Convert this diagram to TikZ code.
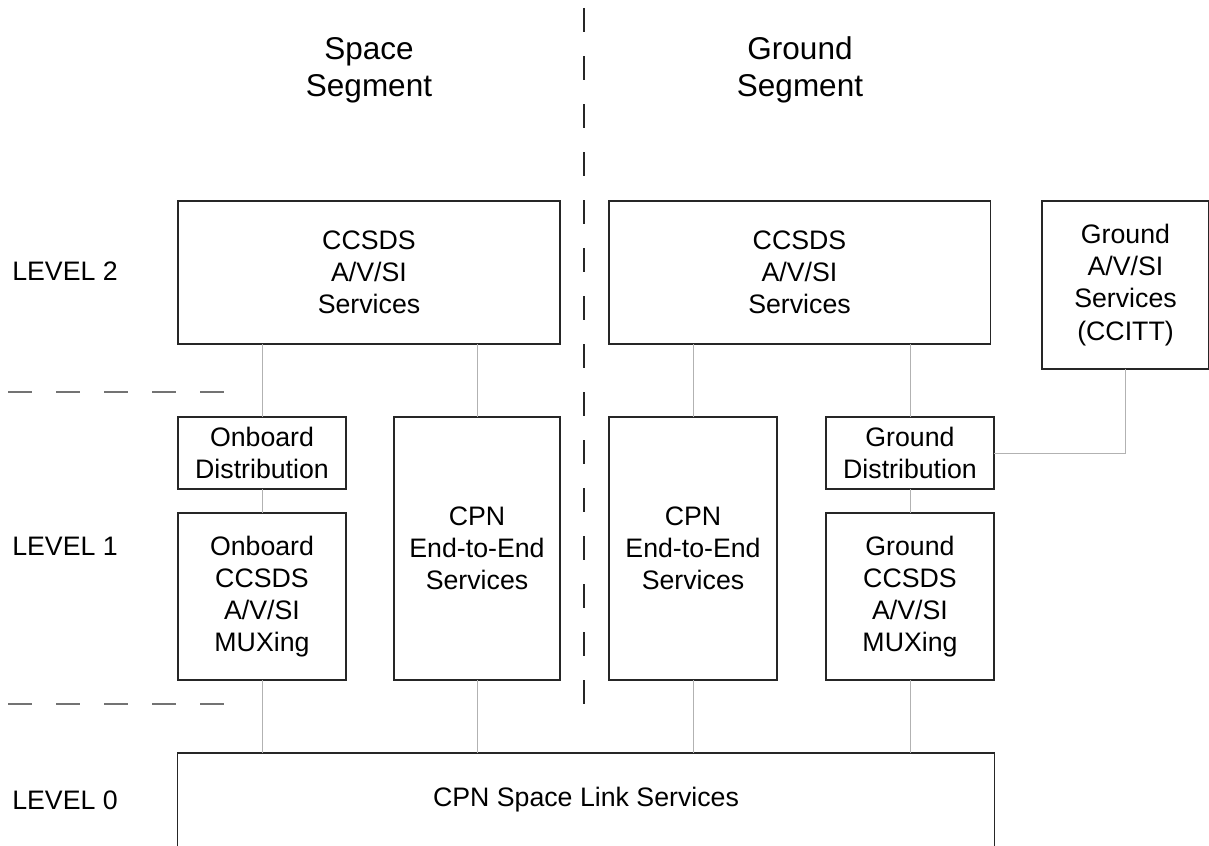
\documentclass[tikz,border=0pt]{standalone}
\usepackage{fontspec}
\setmainfont{Liberation Sans}

\begin{document}
\begin{tikzpicture}[x=0.025cm, y=-0.025cm,
        box/.style={draw=black!85, line width=0.8pt, inner sep=0pt, outer sep=0pt, align=center,
                    font=\fontsize{19pt}{22.8pt}\selectfont},
        conn/.style={draw=black!30, line width=0.5pt},
        level/.style={anchor=west, inner sep=0pt, font=\fontsize{19pt}{22.8pt}\selectfont},
        segment/.style={align=center, font=\fontsize{22.4pt}{26.2pt}\selectfont}]

        \useasboundingbox (0,0) rectangle (1209,846);

        % Segment headings and the divider between them
        \node[segment] (space) at (369,70) {Space\\Segment};
        \node[segment] (ground) at (800,70) {Ground\\Segment};
        \draw[black!85, line width=0.8pt, dash pattern=on 0.6cm off 0.6cm] (584,8) -- (584,704);

        % Levels and the dashed marks between them
        \node[level] (lvl2) at (12,271) {LEVEL 2};
        \node[level] (lvl1) at (12,546) {LEVEL 1};
        \node[level] (lvl0) at (12,800) {LEVEL 0};
        \draw[black!55, line width=1pt, dash pattern=on 0.6cm off 0.6cm] (8,392) -- (224,392);
        \draw[black!55, line width=1pt, dash pattern=on 0.6cm off 0.6cm] (8,704) -- (224,704);

        % Level 2 boxes
        \node[box, minimum width=9.55cm, minimum height=3.575cm] (spcc) at (369,272.5) {CCSDS\\A/V/SI\\Services};
        \node[box, minimum width=9.525cm, minimum height=3.575cm] (grcc) at (799.5,272.5) {CCSDS\\A/V/SI\\Services};
        \node[box, minimum width=4.175cm, minimum height=4.2cm] (ccitt) at (1125.5,285) {Ground\\A/V/SI\\Services\\(CCITT)};

        % Level 1 boxes
        \node[box, minimum width=4.2cm, minimum height=1.8cm] (obdist) at (262,453) {Onboard\\Distribution};
        \node[box, minimum width=4.2cm, minimum height=4.175cm] (obmux) at (262,596.5) {Onboard\\CCSDS\\A/V/SI\\MUXing};
        \node[box, minimum width=4.15cm, minimum height=6.575cm] (cpnl) at (477,548.5) {CPN\\End-to-End\\Services};
        \node[box, minimum width=4.2cm, minimum height=6.575cm] (cpnr) at (693,548.5) {CPN\\End-to-End\\Services};
        \node[box, minimum width=4.2cm, minimum height=1.8cm] (grdist) at (910,453) {Ground\\Distribution};
        \node[box, minimum width=4.2cm, minimum height=4.175cm] (grmux) at (910,596.5) {Ground\\CCSDS\\A/V/SI\\MUXing};

        % Level 0 box, open at the bottom
        \node[box, draw=none, minimum width=20.4cm, minimum height=2.35cm] (link) at (586,800) {CPN Space Link Services};
        \draw[black!85, line width=0.8pt] (link.south west) |- (link.north east) -- (link.south east);

        % Connectors
        \draw[conn] (obdist.north) -- (obdist.north |- spcc.south);
        \draw[conn] (cpnl.north) -- (cpnl.north |- spcc.south);
        \draw[conn] (cpnr.north) -- (cpnr.north |- grcc.south);
        \draw[conn] (grdist.north) -- (grdist.north |- grcc.south);
        \draw[conn] (obdist.south) -- (obmux.north);
        \draw[conn] (grdist.south) -- (grmux.north);
        \draw[conn] (grdist.east) -| (ccitt.south);
        \draw[conn] (obmux.south) -- (obmux.south |- link.north);
        \draw[conn] (cpnl.south) -- (cpnl.south |- link.north);
        \draw[conn] (cpnr.south) -- (cpnr.south |- link.north);
        \draw[conn] (grmux.south) -- (grmux.south |- link.north);

\end{tikzpicture}
\end{document}
